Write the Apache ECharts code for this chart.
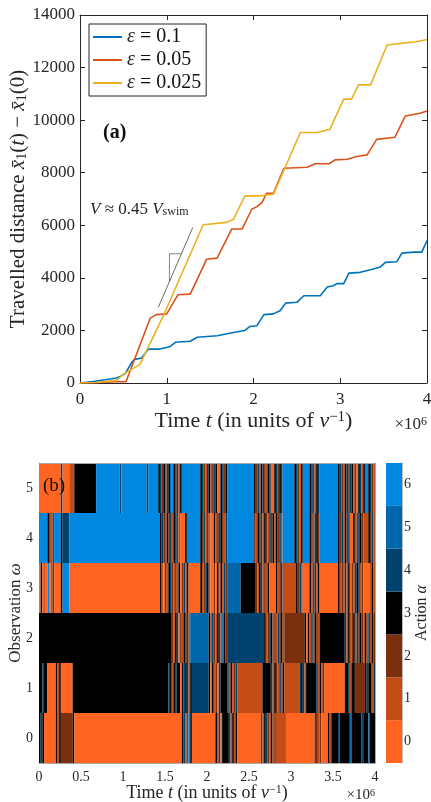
<!DOCTYPE html>
<html><head><meta charset="utf-8">
<script src="https://cdn.jsdelivr.net/npm/echarts@6/dist/echarts.min.js"></script>
<style>html,body{margin:0;padding:0;background:#fff}#c{width:431px;height:802px}</style>
</head><body><div id="c"></div><script>
// ---------- Panel (a) data: [time (x1e6), travelled distance] ----------
const eps01 = [[0,0],[0.15,60],[0.35,150],[0.42,190],[0.47,260],[0.52,360],[0.6,800],[0.63,900],[0.71,950],[0.79,1290],[0.92,1290],[1.0,1350],[1.04,1390],[1.1,1550],[1.27,1590],[1.35,1740],[1.58,1800],[1.77,1920],[1.9,2000],[1.96,2150],[2.04,2180],[2.12,2600],[2.23,2630],[2.31,2760],[2.37,3040],[2.5,3070],[2.58,3320],[2.77,3320],[2.85,3650],[2.92,3700],[2.96,3780],[3.04,3780],[3.1,4180],[3.23,4210],[3.35,4310],[3.46,4410],[3.52,4590],[3.65,4610],[3.71,4940],[3.85,4980],[3.94,4980],[4.0,5420]];
const eps005 = [[0,0],[0.2,20],[0.42,50],[0.53,50],[0.81,2470],[0.88,2600],[1.0,2630],[1.13,3360],[1.27,3380],[1.35,3930],[1.46,4710],[1.58,4750],[1.75,5860],[1.87,5860],[1.98,6610],[2.04,6710],[2.1,6870],[2.15,7220],[2.23,7220],[2.35,8170],[2.62,8210],[2.71,8340],[2.87,8340],[2.94,8490],[3.08,8510],[3.19,8620],[3.31,8680],[3.42,9270],[3.63,9350],[3.75,10160],[3.92,10260],[4.0,10350]];
const eps0025 = [[0,0],[0.2,20],[0.42,100],[0.5,330],[0.58,500],[0.69,700],[0.96,2550],[1.42,6020],[1.69,6110],[1.77,6230],[1.9,7120],[2.08,7120],[2.23,7180],[2.54,9530],[2.73,9530],[2.88,9650],[3.04,10800],[3.13,10800],[3.21,11340],[3.35,11340],[3.54,12860],[3.77,12950],[3.88,12980],[4.0,13070]];
const slopeLine = [[0.904,2890],[1.30,5917]];
const slopeTriangle = [[1.031,3860],[1.031,4916],[1.173,4916]];
const seriesNames = ['ε = 0.1','ε = 0.05','ε = 0.025'];

// ---------- Panel (b) data: action per time bin (run-length: "d*n" = n bins of action d; digits = one bin each), 4 chunks of 1e6 ----------
const obs5 = ["0*13 4 0*4 1*3 3*13 6*14 4 6", "6*14 4 6*6 3423143 56 32413 6*11 3421", "431243 0*2 3423 6*16 3241342134 0*2 34234 6*5", "6*2 34213 6*4 342134 6*11 3421342431203413 6*2 3421"];
const obs4 = ["6*5 3212 6*4 3 4*4 6*32", "6*22 342132413421 0*3 3 6*8 3241", "21 0*2 31243214 6*16 21324132142313241 6*5", "6*2 34213 6*4 321432 6*11 3241324 0*2 312432 1*3 3241"];
const obs3 = ["0301 0 6 0 1 2 0*4 3 6*4 0*32", "0*22 31021342121302413 0*7 3124", "31 002030 3142 5*8 3*9 21341213 0*4 3124 1*5", "1*3 3241 0*4 312413 0*11 312141302143412 0*4 131"];
const obs2 = ["3*50", "3*28 321340213241 5*10", "5 314213415324 4*21 312431214231 2*4", "2*8 3031 413213 3*14 413123142321314132"];
const obs1 = ["33433 0*5 313 0*7 3*30", "3*26 343134330343413 4*9", "4 3031204 3*4 413124 1*15 3*4 341321413 1*4", "1*5 43413 3*5 41312 0*12 334133 2*6 343314"];
const obs0 = ["343 0*7 313 2*7 3 0*29", "0*35 341563 0*9", "0*5 3140 3*4 41313 0*14 213421312 1*6 0*3", "0*14 2212 0*4 31 3333433333 3533333343 335333"];
const observationLabels = ['0','1','2','3','4','5'];
const actionLabels = ['0','1','2','3','4','5','6'];
const tMax = 4;

// ---------- styles ----------
const actionColors = ['#FF6521','#C44C17','#7A300F','#000000','#00426E','#0067AC','#0088E0'];
const lineColors = ['#0072BD','#D95319','#EDB120'];
const SERIF = '"Liberation Serif", "DejaVu Serif", serif';
const AX = '#262626';

function decodeRow(chunks){
  const bins = [];
  chunks.forEach(c => c.trim().split(/\s+/).forEach(tok => {
    if (tok.indexOf('*') >= 0){ const p = tok.split('*'); for (let k=0;k<+p[1];k++) bins.push(+p[0]); }
    else for (const ch of tok) bins.push(+ch);
  }));
  return bins;
}
const rows = [obs0, obs1, obs2, obs3, obs4, obs5];
const heatData = [];
rows.forEach((chunks, r) => {
  const bins = decodeRow(chunks);
  const w = tMax / bins.length;
  let s = 0;
  for (let i = 1; i <= bins.length; i++){
    if (i === bins.length || bins[i] !== bins[s]){
      heatData.push([s*w, i*w, r, bins[s]]);
      s = i;
    }
  }
});

function richSized(sz, sub){
  return {
    i: {fontStyle:'italic', fontFamily: SERIF, fontSize: sz, color: AX},
    sub: {fontFamily: SERIF, fontSize: sub, color: AX, verticalAlign:'bottom', lineHeight: sub+1},
    sup: {fontFamily: SERIF, fontSize: sub, color: AX, verticalAlign:'top', lineHeight: sub+1}
  };
}

const chart = echarts.init(document.getElementById('c'), null, {renderer:'canvas'});
const lineSeries = [eps01, eps005, eps0025].map((d, k) => ({
  name: seriesNames[k], type:'line', data: d, xAxisIndex:0, yAxisIndex:0,
  showSymbol:false, symbol:'none', lineStyle:{color: lineColors[k], width:1.6}, itemStyle:{color: lineColors[k]}, z: 3 + k
}));
const frameLine = {onZero:false, lineStyle:{color:AX, width:1}};
const grayLine = {show:true, onZero:false, lineStyle:{color:'#aaa', width:1}};

chart.setOption({
  animation:false,
  backgroundColor:'#fff',
  grid:[
    {left:80, top:15, width:347, height:368, containLabel:false, outerBoundsMode:'none'},
    {left:39, top:463, width:336, height:300, containLabel:false, outerBoundsMode:'none'},
    {left:386, top:463, width:16, height:300, containLabel:false, outerBoundsMode:'none'}
  ],
  legend:{
    data: seriesNames, orient:'vertical', left:89, top:24,
    icon:'rect', itemWidth:29, itemHeight:2, itemGap:3, padding:[3,5,3,4],
    borderColor: AX, borderWidth:1, borderRadius:0, backgroundColor:'#fff',
    formatter: n => n.replace('ε', '{i|ε}'),
    textStyle:{fontFamily:SERIF, fontSize:20, color:'#111', lineHeight:20, rich: richSized(20, 13)}
  },
  xAxis:[
    {gridIndex:0, type:'value', min:0, max:4, interval:1, position:'bottom',
     axisLine:frameLine, axisTick:{inside:true, length:5, lineStyle:{color:AX}},
     axisLabel:{fontFamily:SERIF, fontSize:17, color:AX, margin:8, formatter: v => String(v)},
     splitLine:{show:false},
     name:'Time {i|t} (in units of {i|ν}{sup|−1})', nameLocation:'middle', nameGap:27, nameMoveOverlap:false,
     nameTextStyle:{fontFamily:SERIF, fontSize:22, color:AX, rich: richSized(22, 15)}},
    {gridIndex:0, type:'value', min:0, max:4, interval:1, position:'top',
     axisLine:frameLine, axisTick:{inside:true, length:5, lineStyle:{color:AX}},
     axisLabel:{show:false}, splitLine:{show:false}},
    {gridIndex:1, type:'value', min:0, max:4, interval:0.5, position:'bottom',
     axisLine:grayLine, axisTick:{show:false},
     axisLabel:{fontFamily:SERIF, fontSize:14, color:AX, margin:7, formatter: v => String(v)},
     splitLine:{show:false},
     name:'Time {i|t} (in units of {i|ν}{sup|−1})', nameLocation:'middle', nameGap:21, nameMoveOverlap:false,
     nameTextStyle:{fontFamily:SERIF, fontSize:18, color:AX, rich: richSized(18, 12)}},
    {gridIndex:2, type:'category', data:['c'], show:false},
    {gridIndex:1, type:'value', min:0, max:4, interval:0.5, position:'top', z:10,
     axisLine:grayLine, axisTick:{show:false}, axisLabel:{show:false}, splitLine:{show:false}}
  ],
  yAxis:[
    {gridIndex:0, type:'value', min:0, max:14000, interval:2000, position:'left',
     axisLine:Object.assign({show:true}, frameLine), axisTick:{show:true, inside:true, length:5, lineStyle:{color:AX}},
     axisLabel:{fontFamily:SERIF, fontSize:17, color:AX, margin:5, formatter: v => String(v)},
     splitLine:{show:false},
     name:'Travelled distance {i|x\u0304}{sub|1}({i|t}) − {i|x\u0304}{sub|1}(0)', nameLocation:'middle', nameGap:51, nameRotate:90, nameMoveOverlap:false,
     nameTextStyle:{fontFamily:SERIF, fontSize:21, color:AX, rich: richSized(21, 14)}},
    {gridIndex:0, type:'value', min:0, max:14000, interval:2000, position:'right',
     axisLine:Object.assign({show:true}, frameLine), axisTick:{show:true, inside:true, length:5, lineStyle:{color:AX}},
     axisLabel:{show:false}, splitLine:{show:false}},
    {gridIndex:1, type:'category', data: observationLabels, position:'left',
     axisLine:grayLine, axisTick:{show:false},
     axisLabel:{fontFamily:SERIF, fontSize:14, color:AX, margin:6},
     name:'Observation {i|ω}', nameLocation:'middle', nameGap:15, nameRotate:90, nameMoveOverlap:false,
     nameTextStyle:{fontFamily:SERIF, fontSize:17, color:AX, rich: richSized(17, 11)}},
    {gridIndex:2, type:'category', data: actionLabels, position:'right',
     axisLine:{show:true, onZero:false, lineStyle:{color:'#bbb'}}, axisTick:{show:true, inside:true, alignWithLabel:true, length:3, lineStyle:{color:AX}},
     axisLabel:{fontFamily:SERIF, fontSize:14, color:AX, margin:2},
     name:'Action {i|α}', nameLocation:'middle', nameGap:12, nameRotate:90, nameMoveOverlap:false,
     nameTextStyle:{fontFamily:SERIF, fontSize:16, color:AX, rich: richSized(16, 11)}},
    {gridIndex:1, type:'category', data: observationLabels, position:'right', z:10,
     axisLine:grayLine, axisTick:{show:false}, axisLabel:{show:false}}
  ],
  series: lineSeries.concat([
    {type:'line', data: slopeLine, xAxisIndex:0, yAxisIndex:0, symbol:'none', silent:true,
     lineStyle:{color:'#444', width:0.8}, z:6},
    {type:'line', data: slopeTriangle, xAxisIndex:0, yAxisIndex:0, symbol:'none', silent:true,
     lineStyle:{color:'#666', width:0.8}, z:6},
    {type:'custom', xAxisIndex:2, yAxisIndex:2, data: heatData, clip:true, silent:true,
     encode:{x:[0,1], y:2},
     renderItem: function(params, api){
       const p0 = api.coord([api.value(0), api.value(2)]);
       const p1 = api.coord([api.value(1), api.value(2)]);
       const h = api.size([0,1])[1];
       return {type:'rect', shape:{x:p0[0], y:p0[1]-h/2, width:p1[0]-p0[0], height:h},
               style:{fill: actionColors[api.value(3)]}};
     }},
    {type:'custom', xAxisIndex:3, yAxisIndex:3, data: actionLabels.map((a,i)=>[0,i]), silent:true,
     encode:{x:0, y:1},
     renderItem: function(params, api){
       const p = api.coord([api.value(0), api.value(1)]);
       const s = api.size([1,1]);
       return {type:'rect', shape:{x:p[0]-s[0]/2, y:p[1]-s[1]/2, width:s[0], height:s[1]},
               style:{fill: actionColors[api.value(1)]}};
     }}
  ]),
  graphic:[
    {type:'text', left:103, top:123, style:{text:'(a)', font:'bold 20px '+SERIF, fill:'#111'}},
    {type:'text', left:90, top:201, style:{text:'{i|V} ≈ 0.45 {i|V}{sub|swim}', rich: richSized(17, 12), font:'17px '+SERIF, fill:AX}},
    {type:'text', right:4, top:416, style:{text:'×10{sup|6}', rich: richSized(17, 12), font:'17px '+SERIF, fill:AX}},
    {type:'text', left:43, top:477, z:100, style:{text:'(b)', font:'19px '+SERIF, fill:'#111'}},
    {type:'text', right:56, top:788, style:{text:'×10{sup|6}', rich: richSized(15, 10), font:'15px '+SERIF, fill:AX}}
  ]
});
</script></body></html>
